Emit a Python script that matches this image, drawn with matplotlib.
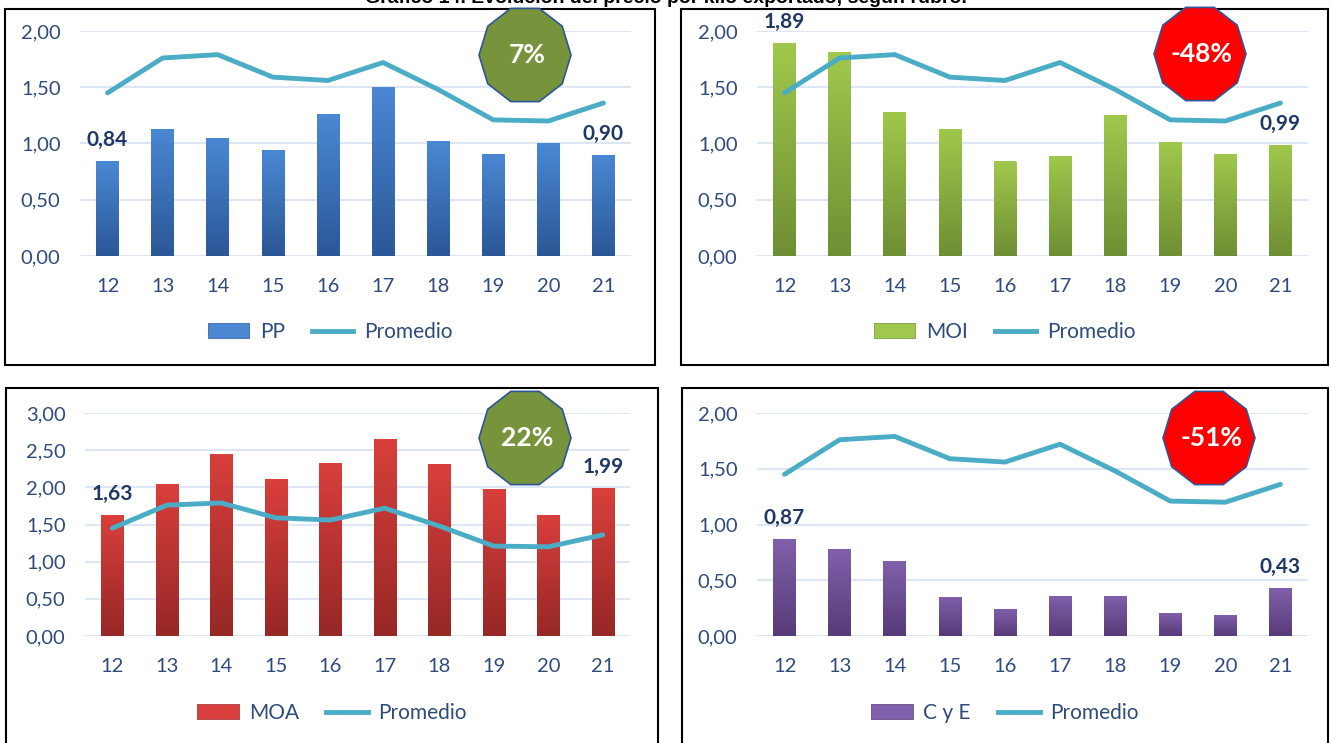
import numpy as np
import matplotlib
matplotlib.use("Agg")
import matplotlib.pyplot as plt
from matplotlib.patches import Polygon, Rectangle, Patch
from matplotlib.lines import Line2D
from matplotlib.colors import LinearSegmentedColormap

years = ['12', '13', '14', '15', '16', '17', '18', '19', '20', '21']
promedio = [1.45, 1.76, 1.79, 1.59, 1.56, 1.72, 1.48, 1.21, 1.20, 1.36]
pp = [0.84, 1.13, 1.05, 0.94, 1.26, 1.50, 1.02, 0.91, 1.00, 0.90]
moi = [1.89, 1.81, 1.28, 1.13, 0.84, 0.89, 1.25, 1.01, 0.91, 0.99]
moa = [1.63, 2.05, 2.45, 2.11, 2.33, 2.65, 2.31, 1.98, 1.63, 1.99]
cye = [0.87, 0.78, 0.67, 0.35, 0.24, 0.36, 0.36, 0.21, 0.19, 0.43]
rubros = ['PP', 'MOI', 'MOA', 'C y E']
variaciones = ['7%', '-48%', '22%', '-51%']

W, H = 1331, 743
TXT = '#203864'
TICK = '#2f4b7c'
LINE = '#4bacc6'

plt.rcParams['font.family'] = ['Lato', 'DejaVu Sans']

fig = plt.figure(figsize=(W / 100, H / 100), dpi=100)


def fx(x):
    return x / W


def fy(y):
    return 1 - y / H


# title (cut by the top edge in the original)
fig.text(0.5, fy(7), 'Gráfico 14. Evolución del precio por kilo exportado, según rubro.',
         ha='center', va='bottom', fontsize=14, fontweight='bold', family='Liberation Sans')

# values, ymax, axes box px, frame box px, bar colors, badge center, badge color, legend y
panels = [
    (pp, 2.0, (80, 31, 631, 256), (5, 9, 655, 365), '#4a88d4', '#2b5797', (525, 55), '#77933c', 332),
    (moi, 2.0, (757, 31, 1308, 256), (681, 9, 1328, 365), '#a0c84c', '#6e8f34', (1200, 54), '#ff0000', 332),
    (moa, 3.0, (85, 413, 630, 636), (6, 388, 658, 745), '#d93f3c', '#962826', (525, 438), '#77933c', 713),
    (cye, 2.0, (757, 413, 1308, 636), (682, 388, 1328, 745), '#8060ab', '#573b78', (1209, 438), '#ff0000', 713),
]

x = np.arange(len(years))
grad = np.linspace(0, 1, 100).reshape(-1, 1)

for i, (vals, ymax, box, frame, ctop, cbot, badge, bcol, legy) in enumerate(panels):
    # frame
    fig.patches.append(Rectangle((fx(frame[0]), fy(frame[3])), fx(frame[2] - frame[0]),
                                 (frame[3] - frame[1]) / H, transform=fig.transFigure,
                                 fill=False, edgecolor='black', linewidth=1.5, zorder=0))

    ax = fig.add_axes([fx(box[0]), fy(box[3]), fx(box[2] - box[0]), (box[3] - box[1]) / H])
    ax.set_xlim(-0.5, len(years) - 0.5)
    ax.set_ylim(0, ymax)
    ax.set_yticks(np.arange(0, ymax + 0.01, 0.5))
    ax.set_yticklabels([f'{v:.2f}'.replace('.', ',') for v in np.arange(0, ymax + 0.01, 0.5)])
    ax.set_xticks(x)
    ax.set_xticklabels(years)
    ax.tick_params(length=0, labelsize=14.5, labelcolor=TICK)
    ax.tick_params(axis='x', pad=16)
    ax.tick_params(axis='y', pad=14)
    for s in ax.spines.values():
        s.set_visible(False)
    ax.grid(axis='y', color='#d6e1f2', linewidth=1.2)
    ax.set_axisbelow(True)

    # bars with vertical gradient
    cmap = LinearSegmentedColormap.from_list('g', [ctop, cbot])
    bars = ax.bar(x, vals, width=0.41, color=ctop, zorder=2)
    for b in bars:
        im = ax.imshow(grad, extent=[b.get_x(), b.get_x() + b.get_width(), 0, b.get_height()],
                       aspect='auto', cmap=cmap, origin='upper', zorder=2.1)
        im.set_clip_path(b)
    ax.set_xlim(-0.5, len(years) - 0.5)
    ax.set_ylim(0, ymax)

    ax.plot(x, promedio, color=LINE, linewidth=3.5, zorder=3, solid_capstyle='round')

    for j in (0, len(vals) - 1):
        ax.annotate(f'{vals[j]:.2f}'.replace('.', ','), (x[j], vals[j]), xytext=(0, 8),
                    textcoords='offset points', ha='center', va='bottom', fontsize=15,
                    fontweight='bold', color=TXT, clip_on=False, zorder=4)

    # badge (decagon, flat top)
    ang = np.deg2rad(36 * np.arange(10))
    cx, cy = badge
    pts = [(fx(cx + 46 * np.cos(a)), fy(cy - 49 * np.sin(a))) for a in ang]
    fig.patches.append(Polygon(pts, closed=True, transform=fig.transFigure, facecolor=bcol,
                               edgecolor='#2f5597', linewidth=1.2, zorder=5))
    fig.text(fx(cx + 2), fy(cy), variaciones[i], ha='center', va='center', fontsize=19,
             fontweight='bold', color='white', zorder=6)

    handles = [Patch(facecolor=ctop, edgecolor=cbot, linewidth=0.5),
               Line2D([0], [0], color=LINE, linewidth=3.5)]
    fig.legend(handles, [rubros[i], 'Promedio'], loc='center',
               bbox_to_anchor=(fx((frame[0] + frame[2]) / 2), fy(legy)), ncol=2,
               frameon=False, fontsize=15, labelcolor=TICK, handlelength=2.0,
               handleheight=0.7, columnspacing=1.3, handletextpad=0.5)

fig.savefig('out.png', dpi=100)
